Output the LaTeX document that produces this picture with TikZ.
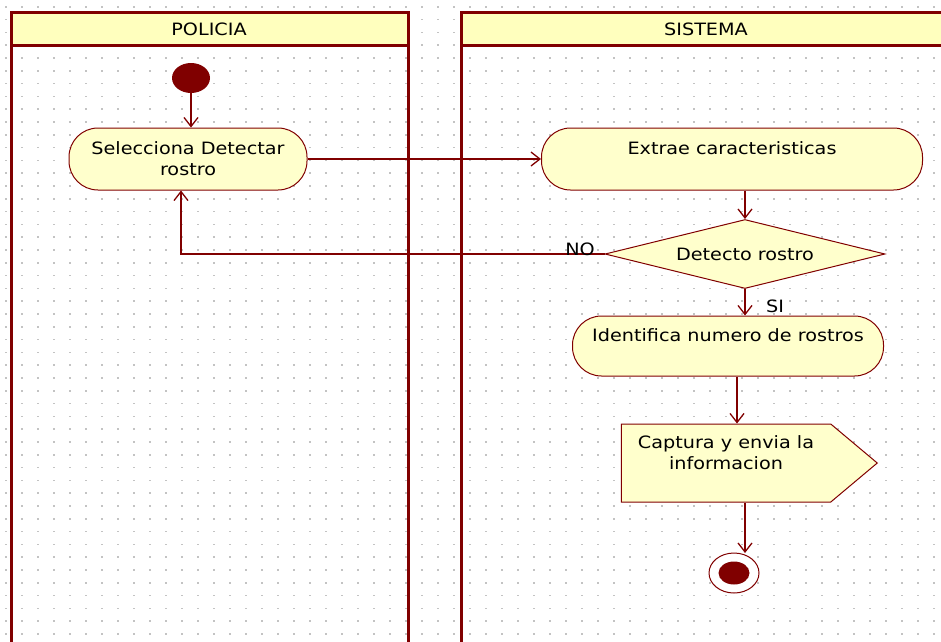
\documentclass[tikz,border=0pt]{standalone}
\usepackage{fontspec}
\setmainfont{DejaVu Sans}[FakeStretch=1.13]
\usetikzlibrary{positioning,calc,arrows.meta}
\usetikzlibrary{shapes.geometric,shapes.symbols}
\definecolor{umlred}{RGB}{128,0,0}
\definecolor{umlfill}{RGB}{255,255,204}
\definecolor{lanehead}{RGB}{255,255,190}
\definecolor{griddot}{RGB}{195,195,195}

\begin{document}
\begin{tikzpicture}[x=1pt,y=-1pt,
         font=\fontsize{17}{21}\selectfont,
         lane/.style = {draw=umlred, line width=3pt},
         lanehdr/.style = {lane, fill=lanehead},
         activity/.style = {draw=umlred, fill=umlfill, line width=1pt,
         rounded corners=29pt, align=center, inner sep=0pt},
         decision/.style = {diamond, aspect=4, draw=umlred, fill=umlfill,
         line width=1pt, inner sep=0pt},
         sendsig/.style = {signal, signal to=east, draw=umlred,
         fill=umlfill, line width=1pt, align=center, inner sep=0pt},
         flow/.style = {draw=umlred, line width=1.3pt,
         -{Straight Barb[length=9pt,width=14pt]}}
]
   \clip (0,0) rectangle (941,641);

   % dotted background
   \foreach \i in {0,...,58}
      \foreach \j in {0,...,49}
         \fill[griddot] (5+16*\i,6+12.8*\j) rectangle ++(1.5,1.5);

   % swimlanes
   \draw[lane] (11,12) rectangle (408,670);
   \draw[lanehdr] (11,12) rectangle (408,45);
   \node (policia) at (209,29) {POLICIA};

   \draw[lane] (461,12) rectangle (970,670);
   \draw[lanehdr] (461,12) rectangle (970,45);
   \node (sistema) at (706,29) {SISTEMA};

   % start and activities
   \node[ellipse, fill=umlred, minimum width=38pt, minimum height=30pt,
         inner sep=0pt]                                    (ini) at (191,78) {};
   \node[activity, minimum width=238pt, minimum height=62pt] (sel) at (188,159)
         {Selecciona Detectar\\rostro};
   \node[activity, minimum width=381pt, minimum height=62pt] (ext) at (732,159)
         {Extrae caracteristicas\\~};
   \node[decision, minimum width=280pt, minimum height=69pt] (dec) at (745,254)
         {Detecto rostro};
   \node[activity, minimum width=311pt, minimum height=60pt] (ide) at (728,346)
         {Identifica numero de rostros\\~};
   \node[sendsig, minimum width=256pt, minimum height=78pt,
         signal pointer angle=80]                          (cap) at (726,463)
         {Captura y envia la\\informacion\\~};

   % final node
   \node[ellipse, draw=umlred, line width=1pt, fill=white, minimum width=50pt,
         minimum height=40pt, inner sep=0pt]               (fin) at (734,573) {};
   \node[ellipse, fill=umlred, minimum width=31pt, minimum height=23pt,
         inner sep=0pt]                                    (fincore) at (fin) {};

   % flows
   \draw[flow] (ini) -- (ini |- sel.north);
   \draw[flow] (sel) -- (ext);
   \draw[flow] (ext.south -| dec.north) -- (dec.north);
   \draw[flow] (dec.west) -| ([xshift=-7pt]sel.south);
   \node (no) at (580,249) {NO};
   \draw[flow] (dec.south) -- (dec.south |- ide.north);
   \node (si) at (775,306) {SI};
   \draw[flow] ([xshift=9pt]ide.south) -- ([xshift=9pt]ide.south |- cap.north);
   \draw[flow] (cap.south -| 745,0) -- (745,553);

\end{tikzpicture}
\end{document}
